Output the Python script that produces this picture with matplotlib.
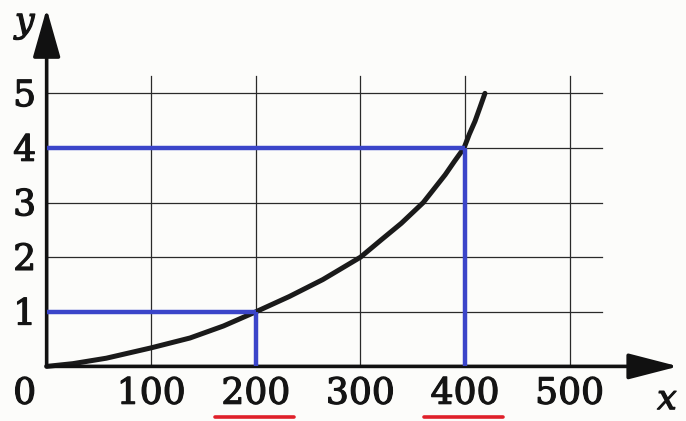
import matplotlib
matplotlib.use("Agg")
import matplotlib.pyplot as plt
import matplotlib.patheffects as pe

# curve
curve_x = [0, 25, 57, 100, 137, 169, 200, 232, 264, 300, 320, 339, 360, 381, 390, 399, 404, 409.5, 414, 419]
curve_y = [0, 0.05, 0.15, 0.34, 0.52, 0.74, 1.0, 1.28, 1.59, 2.0, 2.32, 2.62, 3.0, 3.51, 3.76, 4.0, 4.25, 4.49, 4.73, 5.0]

x_ticks = [100, 200, 300, 400, 500]
y_ticks = [1, 2, 3, 4, 5]
x_tick_labels = ["100", "200", "300", "400", "500"]
y_tick_labels = ["1", "2", "3", "4", "5"]

# highlighted readings
blue_points = [(200, 1), (400, 4)]
underlined = [200, 400]

fig = plt.figure(figsize=(6.86, 4.21), dpi=100)
fig.patch.set_facecolor("#fcfcfa")
ax = fig.add_axes([0, 0, 1, 1])
ax.set_facecolor("#fcfcfa")
ax.set_xlim(-44.6, 611.2)
ax.set_ylim(-1.0, 6.71)
ax.axis("off")

grid_col = "#2a2a2a"
for xv in x_ticks:
    ax.plot([xv, xv], [0, 5.32], color=grid_col, lw=0.9, zorder=1)
for yv in y_ticks:
    ax.plot([0, 531], [yv, yv], color=grid_col, lw=0.9, zorder=1)

# axes with arrows
ax.annotate("", xy=(604, 0), xytext=(0, 0),
            arrowprops=dict(arrowstyle="-|>,head_length=3.1,head_width=0.8",
                            mutation_scale=10, lw=2.6, color="#111111",
                            shrinkA=0, shrinkB=0), zorder=4)
ax.annotate("", xy=(0, 6.55), xytext=(0, 0),
            arrowprops=dict(arrowstyle="-|>,head_length=3.0,head_width=0.85",
                            mutation_scale=10, lw=2.6, color="#111111",
                            shrinkA=0, shrinkB=0), zorder=4)

# curve
ax.plot(curve_x, curve_y, color="#1a1a1a", lw=3.6, solid_capstyle="round",
        solid_joinstyle="round", zorder=3)

# blue guide lines
blue = "#3b45c9"
for bx, by in blue_points:
    ax.plot([0, bx], [by, by], color=blue, lw=3.2, zorder=5, solid_capstyle="butt")
    ax.plot([bx, bx], [0, by], color=blue, lw=3.2, zorder=5, solid_capstyle="butt")

# labels
thick = [pe.withStroke(linewidth=0.9, foreground="#141414")]
font = dict(family="DejaVu Serif", fontsize=26, color="#141414", path_effects=thick)
for xv, lab in zip(x_ticks, x_tick_labels):
    ax.text(xv, -0.5, lab, ha="center", va="center", **font)
ax.text(-21, -0.5, "0", ha="center", va="center", **font)
for yv, lab in zip(y_ticks, y_tick_labels):
    ax.text(-21, yv - 0.05, lab, ha="center", va="center", **font)
ax.text(-21, 6.3, "y", ha="center", va="center", style="italic",
        family="DejaVu Serif", fontsize=25, color="#141414", path_effects=thick)
ax.text(593, -0.6, "x", ha="center", va="center", style="italic",
        family="DejaVu Serif", fontsize=25, color="#141414", path_effects=thick)

# red underlines
for u in underlined:
    ax.plot([u - 39, u + 36], [-0.92, -0.92], color="#e0202a", lw=2.6,
            solid_capstyle="round", zorder=5)

fig.savefig("out.png", dpi=100, facecolor=fig.get_facecolor())
